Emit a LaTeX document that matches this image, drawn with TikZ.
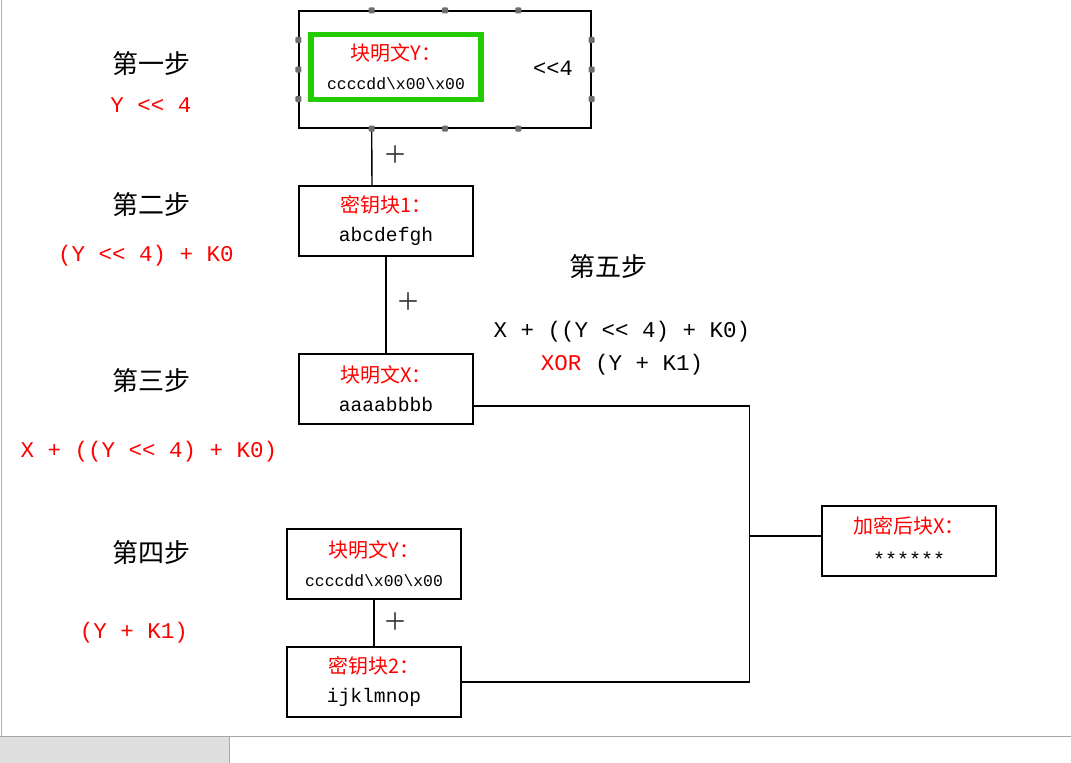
\documentclass[tikz,border=0pt]{standalone}
\usepackage{fontspec}
\setmonofont{Liberation Mono}
\newfontfamily\cjk{Noto Sans CJK SC}
\usetikzlibrary{calc}
\definecolor{selgreen}{RGB}{34,204,0}
\definecolor{handlegray}{RGB}{110,110,110}
\newcommand{\boxtitle}[1]{{\cjk\color{red}#1}}

\begin{document}
\begin{tikzpicture}[x=1pt,y=-1pt]
\tikzset{
  blockbox/.style={rectangle,draw=black,line width=1.3pt,fill=white,minimum width=174pt,minimum height=70pt,inner sep=0pt,align=center,font=\ttfamily\fontsize{20}{29}\selectfont},
  wire/.style={draw=black,line width=1.4pt,line cap=rect,line join=miter},
  steplabel/.style={font=\cjk\fontsize{26}{30}\selectfont,inner sep=0pt},
  formula/.style={font=\ttfamily\fontsize{22.5}{30}\selectfont,inner sep=0pt,text=red},
  plussign/.style={font=\cjk\fontsize{24}{24}\selectfont,inner sep=0pt,text=black!80},
  handle/.style={rectangle,fill=handlegray,minimum size=6pt,inner sep=0pt,rounded corners=1pt}
}
\useasboundingbox (0,0) rectangle (1071,763);
% window frame
\fill[white] (0,0) rectangle (1071,763);
\draw[gray!60,line width=1pt] (1.5,0) -- (1.5,736);
\fill[gray!25] (0,736) rectangle (229,763);
\draw[gray!70,line width=1pt] (0,736) -- (1071,736);
\draw[gray!70,line width=1pt] (229.5,736) -- (229.5,763);

% step labels on the left
\node[steplabel] (n_s1) at (151,64) {第一步};
\node[formula] (n_f1) at (151,105) {Y << 4};
\node[steplabel] (n_s2) at (151,205) {第二步};
\node[formula] (n_f2) at (146,256) {(Y << 4) + K0};
\node[steplabel] (n_s3) at (151,381) {第三步};
\node[formula] (n_f3) at (149,452) {X + ((Y << 4) + K0)};
\node[steplabel] (n_s4) at (151,553) {第四步};
\node[formula] (n_f4) at (134,633) {(Y + K1)};
\node[steplabel] (n_s5) at (608,267) {第五步};
\node[formula,text=black] (n_f5) at (622,332) {X + ((Y << 4) + K0)};
\node[formula,text=black] (n_f6) at (622,365) {\textcolor{red}{XOR} (Y + K1)};

% blocks
\node[rectangle,draw=black,line width=1.3pt,minimum width=292pt,minimum height=117pt,inner sep=0pt] (n_grp) at (445,69.5) {};
\node[blockbox,draw=selgreen,line width=5.5pt,minimum width=170pt,minimum height=65pt] (n_y) at (396,67) {\boxtitle{块明文Y：}\\{\fontsize{16.4}{20}\selectfont ccccdd\textbackslash x00\textbackslash x00}};
\node[font=\ttfamily\fontsize{22}{26}\selectfont,inner sep=0pt] (n_shift) at (553,68) {<<4};
\node[blockbox] (n_k1) at (386,221) {\boxtitle{密钥块1：}\\{\fontsize{19.6}{24}\selectfont abcdefgh}};
\node[blockbox] (n_x) at (386,389) {\boxtitle{块明文X：}\\{\fontsize{19.6}{24}\selectfont aaaabbbb}};
\node[blockbox] (n_y2) at (374,564) {\boxtitle{块明文Y：}\\{\fontsize{16.4}{20}\selectfont ccccdd\textbackslash x00\textbackslash x00}};
\node[blockbox] (n_k2) at (374,682) {\boxtitle{密钥块2：}\\{\fontsize{19.6}{24}\selectfont ijklmnop}};
\node[blockbox] (n_out) at (909,541) {\boxtitle{加密后块X：}\\{\fontsize{20}{24}\selectfont\raisebox{-4pt}{******}}};
\coordinate (n_bus) at (749.5,536);

% connectors
\draw[wire] ($(n_grp.south west)!0.25!(n_grp.south east)$) -- (n_k1.north -| 372,0);
\draw[wire] (n_k1.south) -- (n_x.north);
\draw[wire] (n_y2.south) -- (n_k2.north);
\draw[wire] ([yshift=-17pt]n_x.east) -| (n_bus) |- (n_k2.east);
\draw[wire] (n_bus) -- (n_bus -| n_out.west);
\node[plussign] (n_p1) at (395.5,154.5) {＋};
\node[plussign] (n_p2) at (408,302) {＋};
\node[plussign] (n_p3) at (395,622) {＋};

% selection handles
\node[handle] (n_h1) at ($(n_grp.north west)!0.25!(n_grp.north east)$) {};
\node[handle] (n_h2) at ($(n_grp.north west)!0.5!(n_grp.north east)$) {};
\node[handle] (n_h3) at ($(n_grp.north west)!0.75!(n_grp.north east)$) {};
\node[handle] (n_h4) at ($(n_grp.south west)!0.25!(n_grp.south east)$) {};
\node[handle] (n_h5) at ($(n_grp.south west)!0.5!(n_grp.south east)$) {};
\node[handle] (n_h6) at ($(n_grp.south west)!0.75!(n_grp.south east)$) {};
\node[handle] (n_h7) at ($(n_grp.north west)!0.25!(n_grp.south west)$) {};
\node[handle] (n_h8) at ($(n_grp.north west)!0.5!(n_grp.south west)$) {};
\node[handle] (n_h9) at ($(n_grp.north west)!0.75!(n_grp.south west)$) {};
\node[handle] (n_h10) at ($(n_grp.north east)!0.25!(n_grp.south east)$) {};
\node[handle] (n_h11) at ($(n_grp.north east)!0.5!(n_grp.south east)$) {};
\node[handle] (n_h12) at ($(n_grp.north east)!0.75!(n_grp.south east)$) {};
\end{tikzpicture}
\end{document}
